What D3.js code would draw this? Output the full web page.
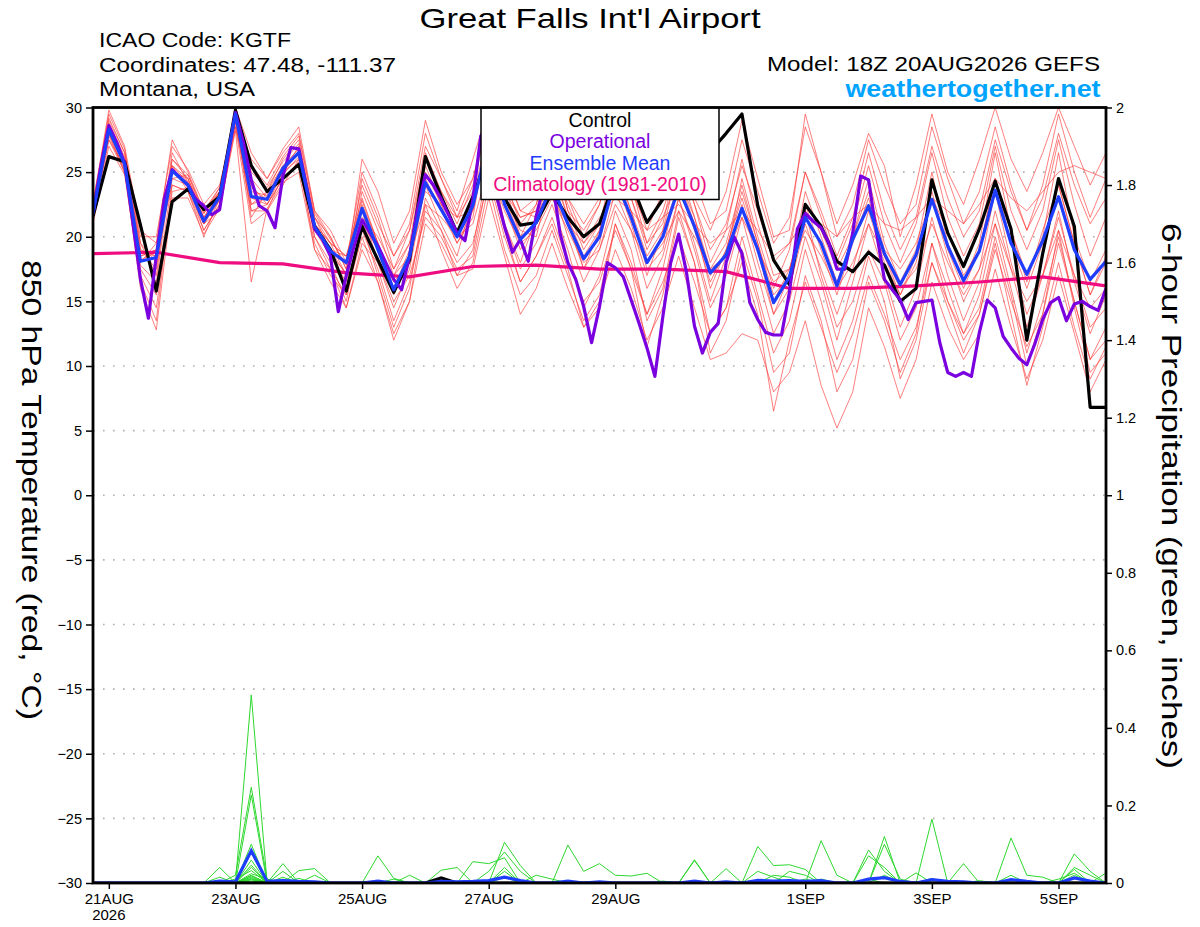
<!DOCTYPE html>
<html>
<head>
<meta charset="utf-8">
<script src="https://cdn.jsdelivr.net/npm/d3@7"></script>
<style>
  body { margin: 0; background: #fff; }
  svg { display: block; font-family: "Liberation Sans", Arial, Helvetica, sans-serif; }
</style>
</head>
<body>
<svg id="chart" width="1200" height="927"></svg>
<script>
// run start / end (6-hourly GEFS, 3-hourly operational)
var runStart = Date.UTC(2026, 7, 20, 18);
var runEnd = Date.UTC(2026, 8, 5, 18);

var dateTicks = ['2026-08-21', '2026-08-23', '2026-08-25', '2026-08-27', '2026-08-29', '2026-09-01', '2026-09-03', '2026-09-05'];
var dateLabels = ['21AUG', '23AUG', '25AUG', '27AUG', '29AUG', '1SEP', '3SEP', '5SEP'];
var tempTicks = [-30, -25, -20, -15, -10, -5, 0, 5, 10, 15, 20, 25, 30];
var precipTicks = [0, 0.2, 0.4, 0.6, 0.8, 1, 1.2, 1.4, 1.6, 1.8, 2];
var legendLabels = ['Control', 'Operational', 'Ensemble Mean', 'Climatology (1981-2010)'];

// 850 hPa temperature, control run (6-hourly)
var controlTemp = [21.6, 26.2, 25.8, 20.9, 15.8, 22.7, 23.7, 22.1, 23.1, 29.8,
  25.5, 23.5, 24.5, 25.6, 20.8, 19.0, 15.8, 20.8, 18.2, 15.7,
  18.2, 26.2, 23.1, 20.3, 23.1, 26.5, 23.0, 20.9, 21.1, 23.4,
  21.5, 20.0, 21.0, 24.5, 24.2, 21.1, 22.9, 24.5, 25.5, 26.6,
  28.0, 29.5, 22.4, 18.2, 16.3, 22.5, 20.8, 18.1, 17.3, 18.8,
  17.8, 15.0, 16.0, 24.4, 20.3, 17.7, 20.6, 24.3, 20.6, 12.0,
  18.7, 24.5, 20.8, 6.8, 6.8];

// ensemble mean (6-hourly)
var meanTemp = [21.8, 28.3, 25.6, 18.1, 18.4, 25.1, 24.0, 21.2, 23.1, 29.5,
  23.1, 22.9, 25.3, 26.5, 20.8, 18.9, 18.0, 22.2, 19.0, 15.9,
  18.5, 24.2, 22.1, 20.0, 22.4, 27.5, 22.5, 19.8, 21.1, 24.0,
  21.0, 18.3, 20.0, 24.5, 21.5, 18.0, 20.0, 23.8, 20.8, 17.2,
  18.6, 22.2, 19.0, 14.9, 16.9, 21.5, 19.5, 16.2, 19.8, 22.4,
  18.7, 16.3, 18.6, 22.9, 19.3, 16.6, 18.9, 23.6, 19.5, 17.1,
  19.7, 23.1, 19.0, 16.7, 18.1];

// operational run (3-hourly)
var operTemp = [21.8, 25.5, 28.6, 27.3, 25.7, 21.3, 16.7, 13.7, 18.5, 22.9,
  25.2, 24.6, 24.0, 22.9, 22.4, 21.7, 22.1, 26.0, 29.6, 27.3,
  24.4, 22.4, 22.0, 20.7, 24.7, 26.9, 26.8, 23.8, 20.6, 19.8,
  18.5, 14.2, 17.0, 19.3, 21.3, 20.3, 19.3, 18.0, 16.7, 15.9,
  18.5, 22.1, 24.8, 24.0, 22.9, 21.6, 20.3, 19.7, 22.9, 27.8,
  28.5, 23.1, 20.8, 18.8, 19.8, 18.1, 21.6, 24.0, 24.5, 20.3,
  18.0, 16.7, 14.6, 11.8, 14.6, 18.0, 17.6, 16.9, 15.1, 13.3,
  11.4, 9.2, 13.8, 18.0, 20.2, 17.2, 13.1, 11.0, 12.6, 13.3,
  18.0, 20.0, 18.7, 14.9, 13.6, 12.6, 12.4, 12.4, 15.7, 20.6,
  21.8, 21.2, 20.7, 19.5, 17.5, 17.5, 20.3, 24.7, 24.4, 20.3,
  16.7, 15.9, 15.1, 13.6, 14.9, 15.0, 15.1, 11.8, 9.5, 9.2,
  9.5, 9.2, 12.6, 15.1, 14.5, 12.3, 11.4, 10.6, 10.1, 11.7,
  13.6, 14.9, 15.3, 13.5, 14.8, 15.0, 14.6, 14.3, 16.0];

// 1981-2010 climatology, daily at 18Z
var climTemp = [18.7, 18.8, 18.0, 17.9, 17.2, 16.9, 17.7, 17.8, 17.5, 17.5, 17.3, 16.0, 16.0, 16.2, 16.5, 16.9, 16.2];

// ensemble members (6-hourly)
var memberTemps = [
  [22.3, 29.5, 26.8, 19.5, 17.0, 26.0, 24.5, 21.0, 23.5, 29.8, 25.0, 23.8, 25.8, 27.2, 21.5, 19.0, 17.0,
   23.5, 20.5, 17.0, 19.5, 26.5, 23.5, 21.0, 24.0, 29.0, 24.5, 21.0, 22.5, 26.0, 22.5, 19.5, 21.0,
   26.0, 23.0, 19.5, 22.0, 26.0, 22.5, 19.0, 21.0, 25.5, 22.0, 18.0, 19.5, 25.0, 22.0, 18.5, 21.5,
   26.5, 22.0, 19.0, 21.5, 27.0, 23.0, 20.0, 22.0, 27.5, 23.5, 20.5, 23.0, 28.0, 24.0, 21.0, 23.0],
  [21.0, 27.0, 24.8, 16.5, 13.5, 24.0, 23.5, 20.5, 22.5, 28.8, 22.0, 22.5, 24.5, 25.5, 19.5, 17.0, 15.5,
   20.5, 17.5, 13.5, 16.5, 22.0, 20.5, 18.0, 19.5, 24.5, 20.0, 16.5, 18.5, 21.5, 18.0, 15.0, 16.5,
   20.5, 17.5, 14.0, 16.5, 20.0, 16.5, 12.5, 14.5, 18.0, 14.0, 6.5, 12.0, 16.5, 13.0, 9.5, 12.5,
   17.0, 14.0, 10.5, 13.0, 18.0, 15.0, 12.0, 14.0, 19.0, 15.0, 11.5, 14.0, 19.5, 15.0, 10.5, 12.0],
  [22.0, 28.0, 25.0, 18.5, 19.0, 25.5, 24.2, 21.5, 23.3, 29.0, 24.5, 23.0, 25.0, 26.0, 21.0, 19.5, 18.5,
   23.0, 19.5, 16.5, 18.0, 25.0, 22.5, 19.5, 21.5, 28.5, 23.0, 20.5, 20.0, 25.0, 21.5, 17.5, 19.5,
   25.0, 22.0, 17.5, 19.0, 24.5, 21.0, 16.0, 19.0, 23.5, 19.5, 15.0, 17.5, 22.0, 20.5, 17.5, 20.0,
   23.5, 19.0, 17.5, 19.5, 23.0, 20.5, 17.0, 19.0, 24.5, 20.5, 16.5, 20.5, 24.0, 19.5, 15.5, 18.5],
  [22.5, 29.8, 27.0, 20.5, 19.5, 27.5, 25.0, 22.0, 23.8, 30.0, 26.5, 24.5, 26.5, 28.0, 22.0, 20.5, 18.0,
   25.0, 22.0, 18.5, 21.0, 28.0, 24.5, 22.0, 26.0, 30.0, 25.5, 22.0, 23.0, 27.5, 22.0, 20.5, 22.5,
   27.5, 24.0, 20.5, 23.5, 27.0, 23.0, 20.5, 23.5, 29.0, 24.5, 20.0, 20.5, 29.5, 25.0, 21.0, 24.0,
   28.0, 25.5, 20.0, 24.0, 29.5, 25.0, 22.5, 26.0, 30.0, 26.0, 23.5, 26.5, 30.0, 27.0, 24.0, 26.5],
  [21.5, 27.5, 25.5, 17.0, 14.5, 23.5, 23.8, 21.0, 22.0, 28.5, 21.0, 22.0, 24.0, 26.0, 19.0, 16.5, 14.5,
   19.0, 16.5, 12.0, 15.0, 21.0, 19.5, 17.0, 17.5, 23.0, 18.5, 14.0, 16.0, 19.5, 16.0, 13.0, 15.0,
   19.0, 16.0, 12.0, 14.5, 18.5, 14.5, 10.5, 11.0, 12.5, 12.0, 8.0, 9.5, 13.5, 8.5, 5.2, 8.0,
   14.5, 11.5, 7.5, 10.5, 16.5, 13.0, 10.5, 12.5, 17.5, 13.0, 9.0, 12.0, 17.0, 12.5, 8.0, 10.5],
  [22.0, 28.5, 26.0, 19.0, 17.5, 25.5, 23.5, 20.0, 23.0, 29.2, 22.5, 23.5, 25.5, 26.8, 20.5, 18.5, 16.5,
   22.0, 18.0, 14.5, 17.5, 24.0, 21.0, 18.5, 23.0, 27.0, 21.0, 18.0, 21.5, 24.0, 20.0, 16.5, 19.0,
   23.5, 20.5, 16.0, 18.5, 23.0, 19.0, 14.5, 17.0, 21.5, 17.0, 12.5, 15.0, 20.0, 16.5, 12.0, 16.5,
   21.0, 17.0, 13.0, 16.0, 21.5, 17.0, 13.5, 16.5, 22.0, 17.5, 13.0, 17.0, 22.0, 16.5, 12.5, 15.5],
  [21.8, 28.8, 26.2, 18.0, 19.5, 24.5, 24.8, 22.0, 23.5, 29.5, 24.0, 22.5, 25.0, 27.0, 21.5, 20.0, 17.5,
   21.5, 20.0, 17.5, 19.5, 23.5, 22.5, 21.5, 23.5, 26.0, 23.5, 21.5, 22.0, 23.0, 21.0, 19.5, 21.5,
   23.0, 22.0, 20.5, 21.5, 22.5, 21.0, 19.5, 20.5, 22.0, 20.5, 18.5, 19.5, 21.5, 21.0, 20.0, 21.5,
   22.5, 21.0, 20.5, 21.5, 23.0, 22.0, 21.0, 22.5, 24.5, 23.0, 22.0, 23.5, 25.0, 25.5, 25.0, 24.5],
  [21.2, 27.8, 25.0, 17.5, 15.5, 24.5, 24.0, 21.5, 22.8, 29.0, 22.0, 22.0, 24.8, 26.2, 20.0, 18.0, 15.0,
   21.0, 17.0, 13.0, 16.0, 23.0, 20.5, 17.0, 19.0, 26.0, 21.0, 17.5, 19.5, 22.5, 19.0, 14.5, 17.0,
   22.0, 19.0, 13.5, 16.0, 22.0, 18.0, 12.5, 14.5, 20.0, 15.5, 11.0, 13.5, 19.0, 15.0, 10.5, 13.5,
   18.5, 15.0, 9.0, 12.0, 18.0, 14.5, 11.0, 14.0, 19.5, 14.0, 8.5, 13.0, 18.0, 13.0, 9.0, 11.5],
  [22.2, 28.2, 25.5, 18.8, 18.5, 25.0, 24.5, 21.8, 23.5, 29.8, 23.5, 23.2, 25.5, 26.5, 21.0, 19.0, 18.5,
   22.5, 19.5, 16.0, 19.0, 25.5, 22.5, 20.5, 22.5, 29.0, 23.0, 20.0, 21.0, 25.5, 21.5, 18.5, 20.5,
   25.5, 22.0, 18.5, 20.5, 25.5, 21.5, 17.5, 19.5, 24.0, 19.5, 15.5, 17.0, 23.5, 20.0, 16.5, 20.0,
   24.5, 19.5, 16.5, 19.0, 25.0, 19.5, 16.5, 19.5, 26.5, 20.5, 17.0, 20.0, 26.5, 20.0, 16.5, 19.0],
  [22.0, 28.5, 25.8, 19.5, 18.0, 26.5, 24.2, 20.5, 22.5, 29.3, 21.5, 23.5, 26.0, 27.5, 21.0, 19.5, 17.0,
   24.5, 21.5, 17.5, 20.5, 26.0, 23.5, 21.5, 22.0, 28.0, 24.0, 21.5, 22.0, 26.5, 22.0, 19.0, 21.0,
   25.0, 23.0, 19.0, 21.5, 24.5, 21.5, 17.0, 18.5, 22.5, 18.0, 14.0, 16.0, 21.0, 17.5, 14.0, 17.5,
   22.0, 18.0, 15.5, 18.0, 23.0, 18.5, 15.0, 17.5, 23.5, 18.0, 14.0, 17.0, 21.5, 17.0, 13.0, 14.5],
  [21.5, 28.0, 25.2, 16.0, 12.8, 23.0, 23.0, 20.2, 22.2, 28.2, 16.5, 22.2, 24.2, 25.0, 19.0, 17.5, 14.5,
   19.5, 18.0, 15.0, 17.0, 21.5, 20.0, 17.5, 18.5, 25.0, 20.5, 16.5, 18.5, 21.0, 17.5, 13.0, 14.5,
   21.0, 17.5, 11.5, 15.5, 21.5, 18.0, 11.0, 13.5, 19.0, 15.0, 9.5, 11.0, 17.0, 13.5, 8.0, 10.5,
   16.5, 13.5, 9.5, 12.5, 19.5, 15.0, 12.5, 14.5, 20.0, 15.5, 10.0, 14.0, 20.5, 14.5, 9.5, 11.0],
  [22.8, 29.2, 26.5, 20.0, 20.0, 27.0, 25.2, 22.5, 24.0, 29.0, 26.0, 24.5, 26.8, 28.5, 22.0, 20.0, 17.5,
   26.0, 23.5, 19.5, 22.0, 29.0, 25.0, 22.5, 24.5, 29.5, 24.0, 20.0, 22.5, 27.5, 23.0, 21.0, 23.0,
   27.0, 23.5, 21.0, 23.0, 27.5, 24.5, 21.0, 22.0, 27.5, 23.5, 19.5, 21.5, 28.5, 25.0, 20.0, 22.5,
   27.5, 24.0, 21.0, 22.5, 28.5, 24.5, 21.0, 23.5, 28.5, 24.0, 20.5, 24.0, 29.5, 25.0, 21.5, 24.5],
  [21.5, 27.5, 25.0, 18.5, 19.0, 24.0, 23.5, 21.0, 23.0, 28.5, 23.0, 22.5, 24.5, 25.8, 21.5, 19.5, 18.5,
   21.0, 19.0, 17.0, 18.5, 22.5, 21.5, 20.0, 21.0, 25.5, 22.0, 19.5, 20.5, 23.0, 20.5, 18.0, 19.0,
   22.5, 20.5, 18.0, 19.5, 22.0, 20.0, 17.5, 18.5, 21.5, 19.0, 16.5, 17.5, 20.5, 18.5, 16.0, 18.0,
   21.0, 18.5, 16.0, 17.5, 21.0, 18.0, 15.5, 17.5, 21.0, 17.5, 15.0, 17.0, 20.5, 17.0, 14.5, 16.0],
  [21.8, 28.0, 25.8, 17.8, 16.5, 25.5, 24.5, 21.5, 23.5, 29.5, 22.5, 23.0, 25.0, 26.5, 20.0, 17.5, 15.5,
   20.0, 16.5, 12.5, 15.0, 22.5, 19.0, 16.0, 18.0, 24.0, 19.0, 15.5, 17.0, 20.5, 17.0, 13.5, 15.5,
   21.0, 18.0, 14.0, 17.5, 23.0, 19.5, 15.0, 18.5, 24.5, 20.0, 16.0, 19.0, 25.0, 21.5, 18.0, 21.0,
   25.5, 21.0, 18.0, 21.0, 26.5, 21.5, 18.5, 21.0, 27.0, 22.0, 19.0, 22.0, 27.5, 22.5, 18.5, 21.5],
  [22.0, 29.0, 26.5, 19.0, 18.5, 26.0, 24.8, 21.8, 23.8, 29.6, 25.5, 24.0, 26.2, 27.8, 21.8, 19.8, 17.8,
   24.0, 21.0, 18.5, 20.5, 27.0, 24.5, 21.5, 24.5, 29.0, 25.0, 22.0, 21.5, 26.0, 23.0, 20.0, 22.5,
   27.0, 24.0, 19.5, 21.0, 26.5, 22.5, 18.0, 20.5, 26.0, 21.0, 17.0, 17.5, 22.0, 17.0, 13.0, 15.0,
   19.0, 16.5, 12.0, 14.5, 19.5, 16.0, 12.5, 15.5, 21.0, 16.0, 11.0, 15.0, 20.0, 15.0, 10.5, 13.0],
  [21.6, 28.4, 25.4, 18.2, 18.8, 25.2, 23.8, 21.0, 22.8, 29.4, 23.8, 22.8, 25.2, 26.4, 20.6, 18.6, 17.2,
   22.8, 19.5, 15.5, 18.5, 24.5, 22.0, 19.5, 22.0, 27.5, 22.5, 19.0, 21.0, 24.5, 21.0, 17.5, 20.5,
   24.5, 21.0, 17.0, 20.5, 24.0, 20.5, 16.5, 19.0, 23.0, 19.0, 14.0, 17.0, 22.5, 19.0, 15.5, 19.5,
   23.0, 18.5, 15.5, 18.5, 23.5, 19.0, 16.0, 19.0, 24.5, 19.5, 16.0, 19.5, 24.0, 19.5, 15.5, 18.0]
];

// 6-hour precipitation (inches): [step, amount] for the non-zero steps, 0 elsewhere
var memberPrecip = [
  [[8, 0.04], [10, 0.485], [12, 0.05], [26, 0.105], [27, 0.045], [46, 0.109], [47, 0.02], [50, 0.12]],
  [[9, 0.02], [10, 0.247], [11, 0.01], [18, 0.07], [19, 0.012], [42, 0.094], [43, 0.045], [44, 0.047], [45, 0.035], [49, 0.085], [50, 0.03]],
  [[10, 0.227], [13, 0.032], [14, 0.037], [24, 0.055], [25, 0.05], [26, 0.065], [30, 0.098], [31, 0.03], [32, 0.05], [33, 0.02], [34, 0.018], [35, 0.025], [53, 0.165]],
  [[8, 0.015], [10, 0.1], [20, 0.02], [22, 0.033], [23, 0.04], [38, 0.06], [58, 0.116], [59, 0.02], [60, 0.015]],
  [[10, 0.059], [12, 0.03], [14, 0.02], [26, 0.04], [40, 0.037], [50, 0.1], [51, 0.01], [62, 0.075], [63, 0.03]],
  [[10, 0.046], [19, 0.01], [25, 0.03], [26, 0.08], [27, 0.03], [44, 0.03], [45, 0.02], [55, 0.05], [62, 0.035], [64, 0.026]],
  [[10, 0.04], [13, 0.012], [43, 0.02], [44, 0.015], [49, 0.07], [50, 0.04], [52, 0.026]],
  [[9, 0.01], [10, 0.032], [12, 0.015], [38, 0.058], [62, 0.04], [63, 0.02]],
  [[10, 0.024], [11, 0.01], [26, 0.03], [46, 0.01], [53, 0.012]],
  [[10, 0.02], [28, 0.02], [29, 0.01], [58, 0.02], [62, 0.02]],
  [[10, 0.015], [12, 0.01], [42, 0.03], [43, 0.015]],
  [[10, 0.012], [45, 0.01], [61, 0.01], [62, 0.025]],
  [[10, 0.01], [26, 0.015], [50, 0.02]],
  [[10, 0.008], [36, 0.005], [56, 0.006]],
  [[10, 0.005], [49, 0.01]],
  [[10, 0.018]]
];
var controlPrecip = [[22, 0.013]];
var meanPrecip = [[8, 0.005], [9, 0.003], [10, 0.083], [11, 0.004], [12, 0.006], [13, 0.004], [14, 0.003],
  [18, 0.005], [22, 0.004], [23, 0.003], [24, 0.004], [25, 0.006], [26, 0.015], [27, 0.006], [30, 0.005],
  [32, 0.003], [38, 0.005], [40, 0.003], [42, 0.007], [43, 0.005], [44, 0.006], [45, 0.004], [46, 0.006],
  [49, 0.01], [50, 0.014], [51, 0.004], [53, 0.009], [54, 0.004], [55, 0.003], [58, 0.009], [59, 0.004],
  [62, 0.013], [63, 0.005]];

var nSteps = controlTemp.length;

function expandPrecip(events) {
  var lookup = new Map(events);
  return d3.range(nSteps).map(function(i) { return lookup.has(i) ? lookup.get(i) : 0; });
}

function drawChart() {
  var margin = {top: 107.5, right: 94, bottom: 44, left: 93},
    width = 1200 - margin.left - margin.right,
    height = 927 - margin.top - margin.bottom;

  var svg = d3.select('#chart');
  var g = svg.append('g')
    .attr('transform', 'translate(' + margin.left + ',' + margin.top + ')');

  var x = d3.scaleUtc().domain([runStart, runEnd]).range([0, width]);
  var yT = d3.scaleLinear().domain([-30, 30]).range([height, 0]);
  var yP = d3.scaleLinear().domain([0, 2]).range([height, 0]);

  function stepTime(i, hours) { return new Date(runStart + i * hours * 3600000); }

  var line6 = d3.line().x(function(d, i) { return x(stepTime(i, 6)); }).y(function(d) { return yT(d); });
  var line3 = d3.line().x(function(d, i) { return x(stepTime(i, 3)); }).y(function(d) { return yT(d); });
  var line24 = d3.line().x(function(d, i) { return x(stepTime(i, 24)); }).y(function(d) { return yT(d); });
  var lineP = d3.line().x(function(d, i) { return x(stepTime(i, 6)); }).y(function(d) { return yP(d); });

  g.append('clipPath').attr('id', 'plotclip')
    .append('rect').attr('x', 0).attr('y', -1).attr('width', width).attr('height', height + 2);

  // dotted grid on the temperature ticks
  g.append('g')
    .selectAll('line')
    .data(tempTicks.filter(function(t) { return t > -30 && t < 30; }))
    .enter().append('line')
    .attr('x1', 0).attr('x2', width)
    .attr('y1', function(d) { return yT(d); })
    .attr('y2', function(d) { return yT(d); })
    .attr('stroke', '#b0b0b0')
    .attr('stroke-width', 1.6)
    .attr('stroke-dasharray', '1.6,8.4');

  var plot = g.append('g').attr('clip-path', 'url(#plotclip)');

  // precipitation (right axis)
  plot.append('g').selectAll('path')
    .data(memberPrecip.map(expandPrecip))
    .enter().append('path')
    .attr('d', lineP)
    .attr('fill', 'none')
    .attr('stroke', '#2ed82e')
    .attr('stroke-width', 1);
  plot.append('path').datum(expandPrecip(controlPrecip))
    .attr('d', lineP).attr('fill', 'none').attr('stroke', '#000').attr('stroke-width', 3.2);
  plot.append('path').datum(expandPrecip(meanPrecip))
    .attr('d', lineP).attr('fill', 'none').attr('stroke', '#1f3dff').attr('stroke-width', 3.2);

  // temperature members
  plot.append('g').selectAll('path')
    .data(memberTemps)
    .enter().append('path')
    .attr('d', line6)
    .attr('fill', 'none')
    .attr('stroke', '#ff3a3a')
    .attr('stroke-opacity', 0.65)
    .attr('stroke-width', 1);

  plot.append('path').datum(climTemp)
    .attr('d', line24).attr('fill', 'none').attr('stroke', '#ee0c80').attr('stroke-width', 3.2);
  plot.append('path').datum(controlTemp)
    .attr('d', line6).attr('fill', 'none').attr('stroke', '#000').attr('stroke-width', 3.2)
    .attr('stroke-linejoin', 'round');
  plot.append('path').datum(operTemp)
    .attr('d', line3).attr('fill', 'none').attr('stroke', '#7a00e0').attr('stroke-width', 3.2)
    .attr('stroke-linejoin', 'round');
  plot.append('path').datum(meanTemp)
    .attr('d', line6).attr('fill', 'none').attr('stroke', '#1f3dff').attr('stroke-width', 3.2)
    .attr('stroke-linejoin', 'round');

  // legend box
  var legendColors = ['#000000', '#7a00e0', '#1f3dff', '#ee0c80'];
  var legend = g.append('g').attr('transform', 'translate(' + (481 - margin.left) + ',0)');
  legend.append('rect')
    .attr('x', 0).attr('y', 0).attr('width', 238).attr('height', 92)
    .attr('fill', '#fff').attr('stroke', '#000').attr('stroke-width', 1.5);
  legend.selectAll('text')
    .data(legendLabels)
    .enter().append('text')
    .attr('x', 119)
    .attr('y', function(d, i) { return 19 + i * 21.6; })
    .attr('text-anchor', 'middle')
    .attr('font-size', 19.5)
    .attr('fill', function(d, i) { return legendColors[i]; })
    .text(function(d) { return d; });

  // frame
  g.append('rect')
    .attr('x', 0).attr('y', 0).attr('width', width).attr('height', height)
    .attr('fill', 'none').attr('stroke', '#000').attr('stroke-width', 2.8);

  // axes
  var yAxis = d3.axisLeft(yT).tickValues(tempTicks).tickSize(7).tickPadding(4).tickSizeOuter(0);
  var yAxisG = g.append('g').attr('class', 'axis axis--y').call(yAxis);
  yAxisG.select('.domain').remove();
  yAxisG.selectAll('line').attr('stroke-width', 1.5);
  yAxisG.selectAll('text').attr('font-size', 14.5).attr('font-family', null).attr('fill', '#000');

  var pAxis = d3.axisRight(yP).tickValues(precipTicks).tickSize(6).tickPadding(4).tickSizeOuter(0)
    .tickFormat(function(d) { return String(+d.toFixed(1)); });
  var pAxisG = g.append('g').attr('class', 'axis axis--p')
    .attr('transform', 'translate(' + width + ',0)').call(pAxis);
  pAxisG.select('.domain').remove();
  pAxisG.selectAll('line').attr('stroke-width', 1.5);
  pAxisG.selectAll('text').attr('font-size', 14.5).attr('font-family', null).attr('fill', '#000');

  var xAxis = d3.axisBottom(x)
    .tickValues(dateTicks.map(function(s) { return new Date(s + 'T00:00:00Z'); }))
    .tickFormat(function(d, i) { return dateLabels[i]; })
    .tickSize(6).tickSizeOuter(0);
  var xAxisG = g.append('g').attr('class', 'axis axis--x')
    .attr('transform', 'translate(0,' + height + ')').call(xAxis);
  xAxisG.select('.domain').remove();
  xAxisG.selectAll('line').attr('stroke-width', 1.5);
  xAxisG.selectAll('text').attr('font-size', 15).attr('font-family', null).attr('fill', '#000')
    .attr('y', 21).attr('dy', null);
  xAxisG.append('text')
    .attr('x', x(new Date(dateTicks[0] + 'T00:00:00Z')))
    .attr('y', 36.5)
    .attr('text-anchor', 'middle')
    .attr('font-size', 15)
    .attr('fill', '#000')
    .text('2026');

  // axis titles, both read top to bottom
  svg.append('text')
    .attr('transform', 'translate(22,490) rotate(90)')
    .attr('text-anchor', 'middle')
    .attr('font-size', 28)
    .attr('textLength', 460).attr('lengthAdjust', 'spacingAndGlyphs')
    .text('850 hPa Temperature (red, \u00B0C)');
  svg.append('text')
    .attr('transform', 'translate(1162,496) rotate(90)')
    .attr('text-anchor', 'middle')
    .attr('font-size', 28)
    .attr('textLength', 546).attr('lengthAdjust', 'spacingAndGlyphs')
    .text('6-hour Precipitation (green, inches)');

  // header
  svg.append('text')
    .attr('x', 590).attr('y', 28)
    .attr('text-anchor', 'middle')
    .attr('font-size', 28)
    .attr('textLength', 341).attr('lengthAdjust', 'spacingAndGlyphs')
    .text("Great Falls Int'l Airport");

  var infoLeft = [
    {t: 'ICAO Code: KGTF', y: 47, w: 192},
    {t: 'Coordinates: 47.48, -111.37', y: 71.5, w: 297},
    {t: 'Montana, USA', y: 96, w: 156}
  ];
  svg.selectAll('.info-left')
    .data(infoLeft)
    .enter().append('text')
    .attr('class', 'info-left')
    .attr('x', 99).attr('y', function(d) { return d.y; })
    .attr('font-size', 20)
    .attr('textLength', function(d) { return d.w; }).attr('lengthAdjust', 'spacingAndGlyphs')
    .text(function(d) { return d.t; });

  svg.append('text')
    .attr('x', 1100).attr('y', 70.5)
    .attr('text-anchor', 'end')
    .attr('font-size', 20)
    .attr('textLength', 333).attr('lengthAdjust', 'spacingAndGlyphs')
    .text('Model: 18Z 20AUG2026 GEFS');
  svg.append('text')
    .attr('x', 1100.5).attr('y', 97)
    .attr('text-anchor', 'end')
    .attr('font-size', 23)
    .attr('font-weight', 'bold')
    .attr('fill', '#00a4ff')
    .attr('textLength', 255).attr('lengthAdjust', 'spacingAndGlyphs')
    .text('weathertogether.net');
}

drawChart();
</script>
</body>
</html>
